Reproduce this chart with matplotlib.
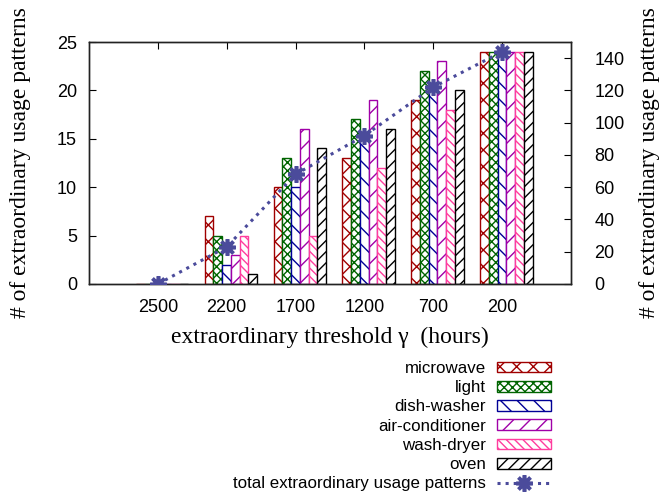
import matplotlib
matplotlib.use("Agg")
import matplotlib.pyplot as plt
import numpy as np

thresholds = ["2500", "2200", "1700", "1200", "700", "200"]
microwave = [0, 7, 10, 13, 19, 24]
light = [0, 5, 13, 17, 22, 24]
dish_washer = [0, 2, 10, 15, 20, 24]
air_conditioner = [0, 3, 16, 19, 23, 24]
wash_dryer = [0, 5, 5, 12, 18, 24]
oven = [0, 1, 14, 16, 20, 24]
total = [0, 23, 68, 92, 122, 144]

series = [
    ("microwave", microwave, "#a00000", "xx"),
    ("light", light, "#006400", "xxxx"),
    ("dish-washer", dish_washer, "#000096", "\\\\"),
    ("air-conditioner", air_conditioner, "#a000a8", "//"),
    ("wash-dryer", wash_dryer, "#ff3d9e", "\\\\\\\\"),
    ("oven", oven, "#000000", "///"),
]

plt.rcParams["hatch.linewidth"] = 1.0
sans = "Liberation Sans"
serif = "Liberation Serif"

fig = plt.figure(figsize=(6.64, 4.99), dpi=100)
ax = fig.add_axes([89/664, 1-284/499, (571-89)/664, (284-42)/499])
ax2 = ax.twinx()

x = np.arange(len(thresholds))
bw = 0.127
handles = []
for i, (name, vals, col, hatch) in enumerate(series):
    b = ax.bar(x - 0.32 + i*bw, vals, width=bw, align="edge", facecolor="white",
               edgecolor=col, hatch=hatch, linewidth=1.0, label=name, zorder=2)
    handles.append(b)

ln, = ax2.plot(x, total, linestyle=":", color="#4b4b9b", linewidth=2.2,
               marker=(8, 2, 0), markersize=12, markeredgewidth=2.6,
               label="total extraordinary usage patterns", zorder=5)
handles.append(ln)

ax.set_xlim(-1, 6)
ax.set_ylim(0, 25)
ax2.set_ylim(0, 150)
ax.set_xticks(x)
ax.set_xticklabels(thresholds, fontfamily=sans, fontsize=13)
ax.set_yticks([0, 5, 10, 15, 20, 25])
ax2.set_yticks([0, 20, 40, 60, 80, 100, 120, 140])
for lab in ax.get_yticklabels() + ax2.get_yticklabels():
    lab.set_fontfamily(sans)
    lab.set_fontsize(13)

ax.tick_params(axis="x", direction="in", top=True, bottom=True, length=5, pad=10.6)
ax.tick_params(axis="y", direction="in", right=False, length=5, pad=8.6)
ax2.tick_params(axis="y", direction="in", length=5, pad=17)
for a in (ax, ax2):
    for s in a.spines.values():
        s.set_linewidth(1.0)
        s.set_color("#222222")

ax.set_xlabel("extraordinary threshold γ  (hours)", fontfamily=serif, fontsize=17, labelpad=8)
ax.set_ylabel("# of extraordinary usage patterns", fontfamily=serif, fontsize=17, labelpad=19)
ax2.set_ylabel("# of extraordinary usage patterns", fontfamily=serif, fontsize=17, labelpad=10)

ax.set_zorder(1)
ax2.set_zorder(2)
ax2.patch.set_visible(False)

fig.legend(handles=handles, labels=[h.get_label() for h in handles],
           loc="upper right", bbox_to_anchor=(551/664, 1-361/499),
           frameon=False, markerfirst=False, borderpad=0, borderaxespad=0,
           handlelength=3.2, handleheight=0.6, handletextpad=0.65,
           labelspacing=0.25, numpoints=1,
           prop={"family": sans, "size": 12.2})

fig.savefig("out.png", dpi=100)
